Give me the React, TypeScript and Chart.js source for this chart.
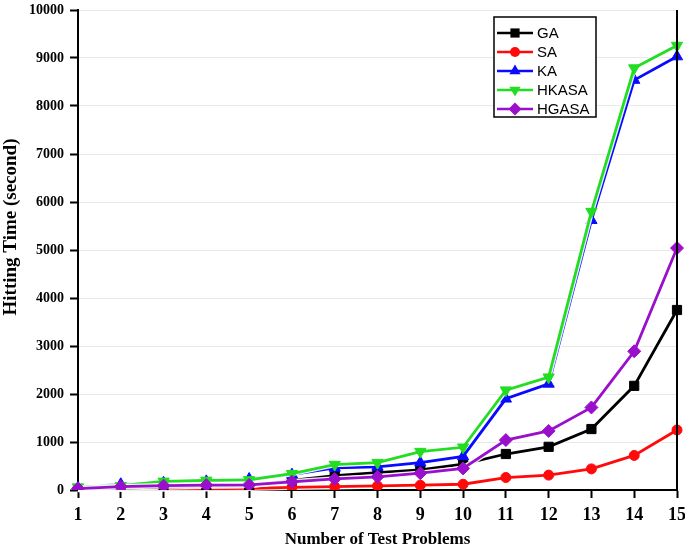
import React, { useEffect, useRef } from "react";
import { Chart, registerables } from "chart.js";

Chart.register(...registerables);

const categories = ["1", "2", "3", "4", "5", "6", "7", "8", "9", "10", "11", "12", "13", "14", "15"];
const gaValues = [20, 40, 60, 80, 90, 200, 300, 360, 420, 540, 750, 900, 1270, 2170, 3750];
const saValues = [10, 15, 20, 25, 35, 55, 70, 85, 100, 120, 260, 310, 440, 720, 1250];
const kaValues = [50, 120, 150, 180, 230, 320, 460, 480, 570, 700, 1900, 2210, 5620, 8540, 9030];
const hkasaValues = [60, 90, 180, 200, 210, 340, 530, 570, 800, 890, 2080, 2350, 5800, 8790, 9260];
const hgasaValues = [30, 70, 90, 100, 105, 170, 230, 275, 350, 450, 1040, 1230, 1720, 2890, 5040];
const yTicks = [0, 1000, 2000, 3000, 4000, 5000, 6000, 7000, 8000, 9000, 10000];
const xTitle = "Number of Test Problems";
const yTitle = "Hitting Time (second)";

const SERIF = "'Liberation Serif', 'Times New Roman', serif";
const SANS = "'Liberation Sans', Arial, sans-serif";

function drawMarker(ctx: CanvasRenderingContext2D, style: string, rot: number, x: number, y: number, r: number, color: string) {
  ctx.save();
  ctx.fillStyle = color;
  ctx.beginPath();
  if (style === "rect") {
    const s = Math.SQRT1_2 * r;
    ctx.rect(x - s, y - s, 2 * s, 2 * s);
  } else if (style === "circle") {
    ctx.arc(x, y, r, 0, Math.PI * 2);
  } else if (style === "triangle") {
    const a = (rot * Math.PI) / 180;
    for (let i = 0; i < 3; i++) {
      const ang = a - Math.PI / 2 + (i * 2 * Math.PI) / 3;
      const px = x + Math.cos(ang) * r;
      const py = y + Math.sin(ang) * r;
      if (i === 0) ctx.moveTo(px, py);
      else ctx.lineTo(px, py);
    }
    ctx.closePath();
  } else if (style === "rectRot") {
    ctx.moveTo(x, y - r);
    ctx.lineTo(x + r, y);
    ctx.lineTo(x, y + r);
    ctx.lineTo(x - r, y);
    ctx.closePath();
  }
  ctx.fill();
  ctx.restore();
}

const haloPlugin = {
  id: "halo",
  beforeDatasetDraw(chart: any, args: any) {
    const meta = args.meta;
    const ctx = chart.ctx;
    const pts = meta.data;
    if (!pts || pts.length < 2) return;
    ctx.save();
    ctx.strokeStyle = "rgba(255,255,255,0.9)";
    ctx.lineWidth = 5.5;
    ctx.lineJoin = "round";
    ctx.beginPath();
    pts.forEach((p: any, i: number) => {
      if (i === 0) ctx.moveTo(p.x, p.y);
      else ctx.lineTo(p.x, p.y);
    });
    ctx.stroke();
    ctx.restore();
  },
};

const framePlugin = {
  id: "frame",
  afterDraw(chart: any) {
    const { ctx, chartArea } = chart;
    ctx.save();
    ctx.strokeStyle = "#000";
    ctx.lineWidth = 2;
    ctx.beginPath();
    ctx.moveTo(chartArea.right, chartArea.top);
    ctx.lineTo(chartArea.right, chartArea.bottom);
    ctx.stroke();

    // axis titles
    ctx.fillStyle = "#000";
    ctx.textAlign = "center";
    ctx.textBaseline = "middle";
    ctx.font = `bold 17px ${SERIF}`;
    ctx.fillText(xTitle, (chartArea.left + chartArea.right) / 2, 540);
    ctx.save();
    ctx.translate(11, 227);
    ctx.rotate(-Math.PI / 2);
    ctx.font = `bold 19px ${SERIF}`;
    ctx.fillText(yTitle, 0, 0);
    ctx.restore();

    // legend
    const bx = 494, by = 17, bw = 102, bh = 100;
    ctx.fillStyle = "#fff";
    ctx.fillRect(bx, by, bw, bh);
    ctx.strokeStyle = "#000";
    ctx.lineWidth = 1.5;
    ctx.strokeRect(bx, by, bw, bh);
    const dsets = chart.data.datasets;
    const rowY = [33, 52, 71, 90, 109];
    dsets.forEach((d: any, i: number) => {
      const y = rowY[i];
      ctx.strokeStyle = d.borderColor;
      ctx.lineWidth = 2.5;
      ctx.beginPath();
      ctx.moveTo(497, y);
      ctx.lineTo(533, y);
      ctx.stroke();
      drawMarker(ctx, d.pointStyle, d.pointRotation || 0, 515, y, d.pointRadius, d.borderColor);
      ctx.fillStyle = "#000";
      ctx.font = `15px ${SANS}`;
      ctx.textBaseline = "middle";
      ctx.textAlign = "left";
      ctx.fillText(d.label, 537, y + 1);
    });
    ctx.restore();
  },
};

export default function App() {
  const ref = useRef<HTMLCanvasElement | null>(null);

  useEffect(() => {
    document.body.style.margin = "0";
    if (!ref.current) return;
    const mk = (label: string, data: number[], color: string, style: string, radius: number, order: number, rot = 0) => ({
      label,
      data,
      borderColor: color,
      backgroundColor: color,
      pointBackgroundColor: color,
      pointBorderColor: color,
      pointBorderWidth: 1,
      pointStyle: style,
      pointRadius: radius,
      pointRotation: rot,
      borderWidth: 2.8,
      tension: 0,
      order,
    });
    const chart = new Chart(ref.current, {
      type: "line",
      data: {
        labels: categories,
        datasets: [
          mk("GA", gaValues, "#000000", "rect", 6.5, 4),
          mk("SA", saValues, "#ff0a0a", "circle", 5, 5),
          mk("KA", kaValues, "#0a0aff", "triangle", 6.5, 3),
          mk("HKASA", hkasaValues, "#22dd22", "triangle", 6.5, 2, 180),
          mk("HGASA", hgasaValues, "#9a0fcc", "rectRot", 6.5, 1),
        ] as any,
      },
      options: {
        animation: false,
        responsive: false,
        maintainAspectRatio: false,
        layout: { padding: { top: 10, right: 8, left: 0, bottom: 0 } },
        plugins: {
          legend: { display: false },
          tooltip: { enabled: false },
        },
        scales: {
          x: {
            type: "category",
            offset: false,
            grid: { drawOnChartArea: false, tickColor: "#000", tickLength: 8, tickWidth: 2 },
            border: { color: "#000", width: 2 },
            ticks: {
              color: "#000",
              font: { family: SERIF, size: 18, weight: "bold" },
              padding: 7,
              maxRotation: 0,
              autoSkip: false,
            },
            afterFit: (s: any) => {
              s.height = 57;
              s.paddingLeft = 0;
              s.paddingRight = 0;
            },
          },
          y: {
            min: 0,
            max: 10000,
            afterBuildTicks: (s: any) => {
              s.ticks = yTicks.map((v) => ({ value: v }));
            },
            grid: { color: "#e8e8e8", lineWidth: 1, tickColor: "#000", tickLength: 8, tickWidth: 2 },
            border: { color: "#000", width: 2 },
            ticks: {
              color: "#000",
              font: { family: SERIF, size: 14, weight: "bold" },
              padding: 6,
              callback: (v: any) => String(v),
            },
            afterFit: (s: any) => {
              s.width = 78;
              s.paddingTop = 0;
              s.paddingBottom = 0;
            },
          },
        },
      } as any,
      plugins: [haloPlugin, framePlugin],
    });
    return () => chart.destroy();
  }, []);

  return <canvas ref={ref} width={685} height={547} style={{ display: "block" }} />;
}
